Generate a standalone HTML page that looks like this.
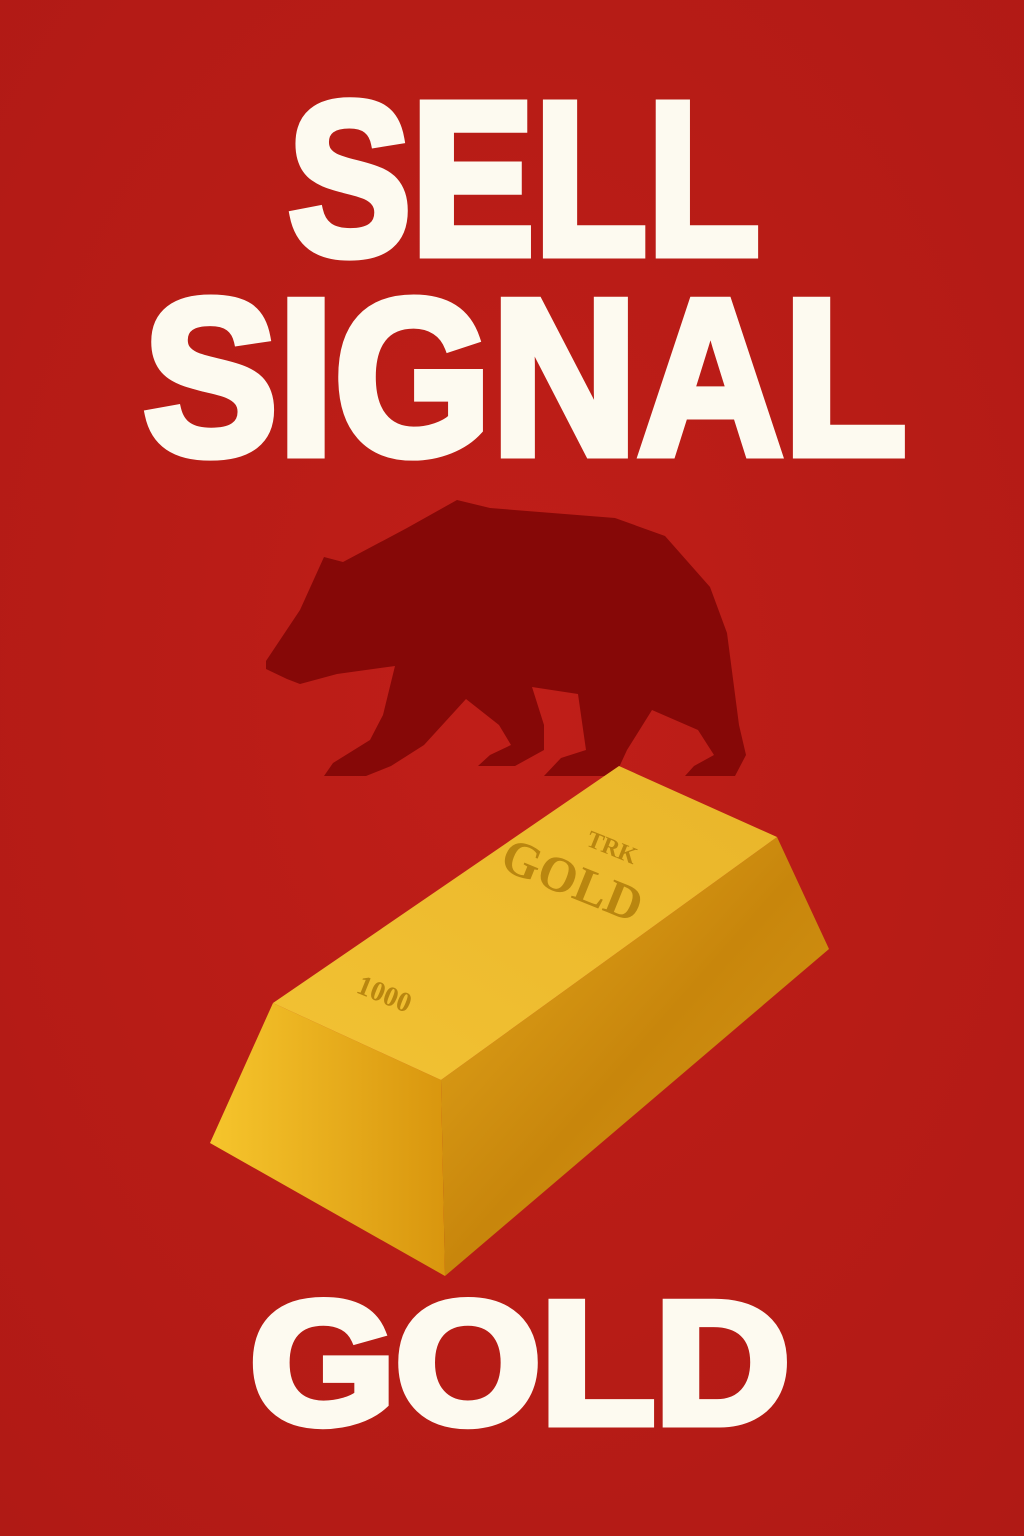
<!DOCTYPE html>
<html><head><meta charset="utf-8"><style>
html,body{margin:0;padding:0;background:#b91c17;}
svg{display:block;}
</style></head><body>
<svg width="1024" height="1536" viewBox="0 0 1024 1536" xmlns="http://www.w3.org/2000/svg">
<defs>
<radialGradient id="bg" cx="50%" cy="45%" r="75%"><stop offset="0" stop-color="#c01e18"/><stop offset="1" stop-color="#b01a15"/></radialGradient>
<linearGradient id="top" x1="0" y1="1" x2="1" y2="0"><stop offset="0" stop-color="#f2c233"/><stop offset="1" stop-color="#e9b52a"/></linearGradient>
<linearGradient id="front" x1="0" y1="0" x2="1" y2="1"><stop offset="0" stop-color="#e5a91c"/><stop offset="0.5" stop-color="#c8860c"/><stop offset="1" stop-color="#d89a16"/></linearGradient>
<linearGradient id="end" x1="0" y1="0" x2="1" y2="0"><stop offset="0" stop-color="#f6c52c"/><stop offset="1" stop-color="#d9960e"/></linearGradient>
</defs>
<rect width="1024" height="1536" fill="url(#bg)"/>
<g fill="#fdfaf0" stroke="#fdfaf0" stroke-width="9" stroke-linejoin="miter" font-family="Liberation Sans, sans-serif" font-weight="bold">
<text x="288" y="254" font-size="218" textLength="472" lengthAdjust="spacingAndGlyphs">SELL</text>
<text x="143" y="454" font-size="222" textLength="764" lengthAdjust="spacingAndGlyphs">SIGNAL</text>
<text x="250" y="1423" font-size="174" textLength="540" lengthAdjust="spacingAndGlyphs">GOLD</text>
</g>
<path fill="#860807" d="M266,661 L300,610 L324,557 L343,562 L407,528 L457,500 L490,508 L615,518 L665,536 L710,587 L727,633 L739,725 L746,755 L735,776 L685,776 L694,766 L714,755 L698,730 L652,710 L627,750 L615,776 L544,776 L561,758 L586,750 L578,694 L532,687 L544,725 L544,750 L515,766 L478,766 L490,755 L511,745 L499,725 L466,699 L424,745 L391,766 L366,776 L324,776 L333,763 L370,740 L383,715 L395,666 L337,674 L300,684 L287,679 L266,669 Z"/>
<g>
<polygon points="273,1003 441,1080 445,1276 210,1143" fill="url(#end)"/>
<polygon points="441,1080 777,837 829,949 445,1276" fill="url(#front)"/>
<polygon points="273,1003 619,766 777,837 441,1080" fill="url(#top)"/>
<g fill="#b9860f" font-family="Liberation Serif, serif" font-weight="bold">
<text transform="translate(585,845) rotate(22)" font-size="24">TRK</text>
<text transform="translate(498,868) rotate(22)" font-size="50">GOLD</text>
<text transform="translate(355,992) rotate(22)" font-size="28">1000</text>
</g>
</g>
</svg>
</body></html>
